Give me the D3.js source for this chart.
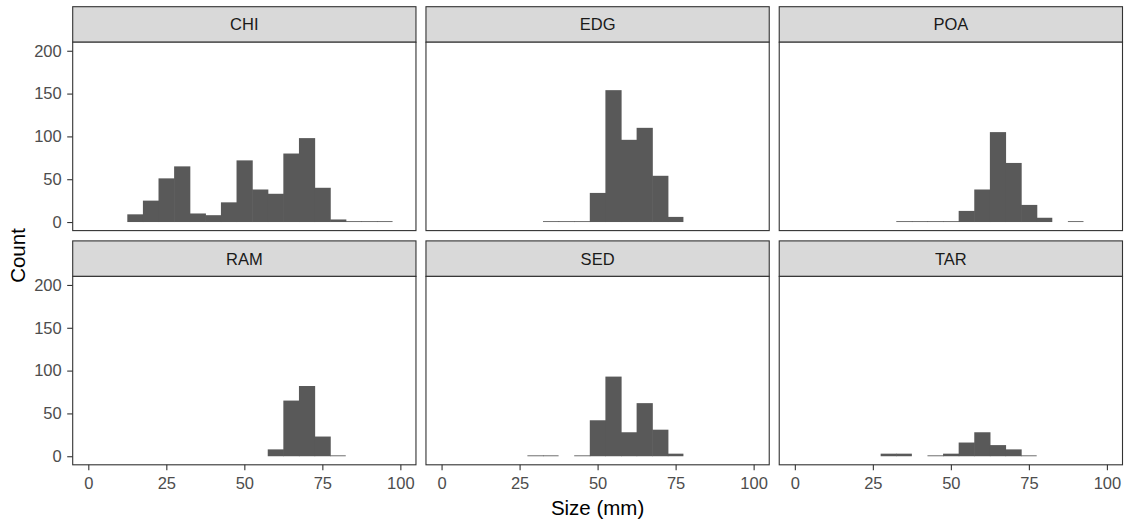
<!DOCTYPE html>
<html>
<head>
<meta charset="utf-8">
<script src="https://cdn.jsdelivr.net/npm/d3@7"></script>
<style>
  html, body { margin: 0; padding: 0; background: #ffffff; }
  svg { display: block; font-family: "Liberation Sans", Arial, sans-serif; }
</style>
</head>
<body>
<svg id="chart" width="1126" height="522"></svg>
<script>
// Histogram bin centres (bin width 5 mm)
const binCenters = [15, 20, 25, 30, 35, 40, 45, 50, 55, 60, 65, 70, 75, 80, 85, 90, 95];
const binWidth = 5;

// Counts per site, aligned with binCenters
const facets = ["CHI", "EDG", "POA", "RAM", "SED", "TAR"];
const countsCHI = [9, 25, 51, 65, 10, 8, 23, 72, 38, 33, 80, 98, 40, 3, 1, 1, 1];
const countsEDG = [0, 0, 0, 0, 1, 1, 1, 34, 154, 96, 110, 54, 6, 0, 0, 0, 0];
const countsPOA = [0, 0, 0, 0, 1, 1, 1, 1, 13, 38, 105, 69, 20, 5, 0, 1, 0];
const countsRAM = [0, 0, 0, 0, 0, 0, 0, 0, 0, 8, 65, 82, 23, 1, 0, 0, 0];
const countsSED = [0, 0, 0, 1, 1, 0, 1, 42, 93, 28, 62, 31, 3, 0, 0, 0, 0];
const countsTAR = [0, 0, 0, 3, 3, 0, 1, 3, 16, 28, 13, 8, 1, 0, 0, 0, 0];
const countsBySite = [countsCHI, countsEDG, countsPOA, countsRAM, countsSED, countsTAR];

const xTicks = [0, 25, 50, 75, 100];
const yTicks = [0, 50, 100, 150, 200];

// Layout of the facet grid
const gridLeft = 72.7, gridRight = 1122.5, colGap = 10;
const gridTop = 6.7, stripH = 35.5, panelH = 188.4, rowGap = 10.3;
const panelW = (gridRight - gridLeft - 2 * colGap) / 3;
const nCols = 3;

const svg = d3.select("#chart");

const x = d3.scaleLinear().domain([-5, 105]).range([0, panelW]);
const y = d3.scaleLinear().domain([-10, 210]).range([panelH, 0]);

const tickFont = 16.5;
const ink = "#333333";

facets.forEach((site, i) => {
  const col = i % nCols, row = Math.floor(i / nCols);
  const px = gridLeft + col * (panelW + colGap);
  const stripY = gridTop + row * (stripH + panelH + rowGap);
  const py = stripY + stripH;

  // strip
  const strip = svg.append("g").attr("transform", `translate(${px},${stripY})`);
  strip.append("rect")
    .attr("width", panelW).attr("height", stripH)
    .attr("fill", "#D9D9D9").attr("stroke", ink).attr("stroke-width", 1.1);
  strip.append("text")
    .attr("x", panelW / 2).attr("y", stripH / 2)
    .attr("dy", "0.36em")
    .attr("text-anchor", "middle")
    .attr("font-size", tickFont)
    .attr("fill", "#1A1A1A")
    .text(site);

  const g = svg.append("g").attr("transform", `translate(${px},${py})`);
  g.append("rect").attr("width", panelW).attr("height", panelH).attr("fill", "#ffffff");

  // bars (a hair wider so neighbouring bins join without a seam)
  const counts = countsBySite[i];
  const data = binCenters.map((c, k) => ({ c, n: counts[k], next: counts[k + 1] || 0 }))
    .filter(d => d.n > 0);
  g.selectAll("rect.bar").data(data).enter().append("rect")
    .attr("class", "bar")
    .attr("x", d => x(d.c - binWidth / 2))
    .attr("width", d => x(d.c + binWidth / 2) - x(d.c - binWidth / 2) + (d.next > 0 ? 0.6 : 0))
    .attr("y", d => y(d.n))
    .attr("height", d => y(0) - y(d.n))
    .attr("fill", "#595959");

  // border
  g.append("rect").attr("width", panelW).attr("height", panelH)
    .attr("fill", "none").attr("stroke", ink).attr("stroke-width", 1.1);

  if (col === 0) {
    const ya = g.append("g").call(d3.axisLeft(y).tickValues(yTicks).tickSize(5.5).tickPadding(5.5));
    ya.select(".domain").remove();
    ya.selectAll(".tick line").attr("stroke", ink).attr("stroke-width", 1.1);
    ya.selectAll(".tick text").attr("fill", "#4D4D4D").attr("font-size", tickFont)
      .attr("font-family", "Liberation Sans, Arial, sans-serif");
  }
  if (row === 1) {
    const xa = g.append("g").attr("transform", `translate(0,${panelH})`)
      .call(d3.axisBottom(x).tickValues(xTicks).tickSize(5.5).tickPadding(7));
    xa.select(".domain").remove();
    xa.selectAll(".tick line").attr("stroke", ink).attr("stroke-width", 1.1);
    xa.selectAll(".tick text").attr("fill", "#4D4D4D").attr("font-size", tickFont)
      .attr("font-family", "Liberation Sans, Arial, sans-serif");
  }
});

// axis titles
const panelsTop = gridTop + stripH;
const panelsBottom = gridTop + 2 * (stripH + panelH) + rowGap;
svg.append("text")
  .attr("x", (gridLeft + gridRight) / 2).attr("y", 515)
  .attr("text-anchor", "middle").attr("font-size", 20.5).attr("fill", "#000000")
  .text("Size (mm)");
svg.append("text")
  .attr("transform", `translate(25,${(panelsTop + panelsBottom) / 2 + 2}) rotate(-90)`)
  .attr("text-anchor", "middle").attr("font-size", 20.5).attr("fill", "#000000")
  .text("Count");
</script>
</body>
</html>
